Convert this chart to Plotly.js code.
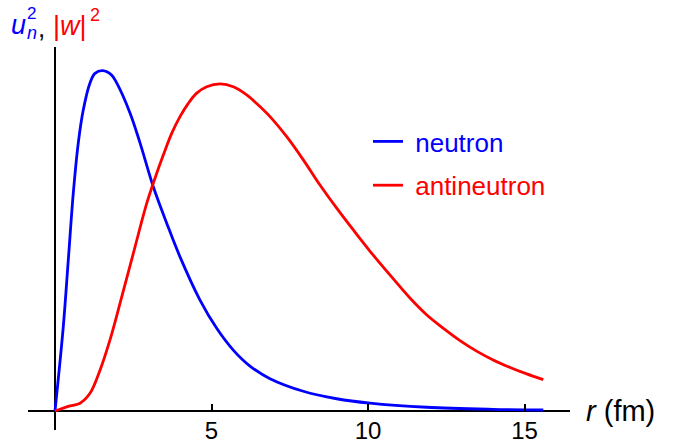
<!DOCTYPE html>
<html>
<head>
<meta charset="utf-8">
<script src="https://cdn.plot.ly/plotly-3.0.1.min.js"></script>
<style>html,body{margin:0;padding:0;background:#fff;}#chart{width:674px;height:444px;}</style>
</head>
<body>
<div id="chart"></div>
<script>
// ---- data ----
const rNeutron = [0, 0.265, 0.425, 0.585, 0.744, 0.904, 1.118, 1.278, 1.524, 1.81, 1.971, 2.396, 2.716, 3.141, 3.569, 3.994, 4.633, 5.166, 5.696, 6.23, 6.869, 7.933, 9.0, 10.06, 11.87, 13.99, 15.6];
const uNeutronSq = [0, 0.248, 0.444, 0.641, 0.788, 0.885, 0.964, 0.992, 1.0, 0.987, 0.964, 0.876, 0.788, 0.659, 0.552, 0.453, 0.326, 0.243, 0.179, 0.132, 0.095, 0.058, 0.036, 0.023, 0.011, 0.005, 0.003];

const rAnti = [0, 0.48, 0.80, 1.118, 1.438, 1.757, 2.077, 2.502, 2.930, 3.195, 3.460, 3.728, 3.994, 4.259, 4.527, 4.847, 5.272, 5.696, 6.125, 6.495, 6.869, 7.403, 7.933, 8.466, 9.0, 9.53, 10.06, 10.81, 11.34, 11.87, 12.41, 12.94, 13.47, 14.0, 14.54, 15.07, 15.6];
const wAntiSq = [0, 0.015, 0.023, 0.052, 0.120, 0.209, 0.316, 0.463, 0.610, 0.684, 0.752, 0.816, 0.865, 0.904, 0.934, 0.953, 0.961, 0.953, 0.929, 0.899, 0.865, 0.806, 0.738, 0.664, 0.596, 0.532, 0.470, 0.388, 0.332, 0.283, 0.243, 0.207, 0.176, 0.150, 0.128, 0.109, 0.092];

const seriesNames = ['neutron', 'antineutron'];
const xTickVals = [5, 10, 15];
const xTickText = ['5', '10', '15'];

// ---- layout helpers (pixel geometry of the plot area) ----
const W = 674, H = 444;
const L = 28, R = 570, T = 47, B = 430;
const px2fx = p => (p - L) / (R - L);
const py2fy = p => (B - p) / (B - T);
const FONT = '"Liberation Sans", Arial, Helvetica, sans-serif';
const BLUE = '#0000ff', RED = '#ff0000';

const traces = [
  {x: rNeutron, y: uNeutronSq, type: 'scatter', mode: 'lines', name: '<span style="color:#0000ff">&nbsp;' + seriesNames[0] + '</span>',
   line: {color: BLUE, width: 2.8, shape: 'spline', smoothing: 1}, legendgroup: 'a'},
  {x: rAnti, y: wAntiSq, type: 'scatter', mode: 'lines', name: '<span style="color:#ff0000">&nbsp;' + seriesNames[1] + '</span>',
   line: {color: RED, width: 2.8, shape: 'spline', smoothing: 1}, legendgroup: 'b'}
];

const x0 = 55, pxPerUnit = 31.3, y0 = 411, pxPerY = 340.3;
const layout = {
  width: W, height: H,
  margin: {l: L, r: W - R, t: T, b: H - B, pad: 0},
  paper_bgcolor: '#fff', plot_bgcolor: '#fff',
  font: {family: FONT, color: '#000', size: 24},
  showlegend: true,
  legend: {x: px2fx(368), y: py2fy(118), xanchor: 'left', yanchor: 'top', font: {size: 26, family: FONT},
           bgcolor: 'rgba(0,0,0,0)', tracegroupgap: 7, itemwidth: 30},
  xaxis: {range: [(L - x0) / pxPerUnit, (R - x0) / pxPerUnit], showgrid: false, zeroline: true, zerolinecolor: '#000', zerolinewidth: 2,
          showline: false, anchor: 'free', position: (B - y0) / (B - T), side: 'bottom',
          ticks: 'inside', ticklen: 7, tickwidth: 2, tickcolor: '#000', tickvals: xTickVals, ticktext: xTickText,
          ticklabelstandoff: 3,
          tickfont: {size: 24, family: FONT, color: '#000'}, fixedrange: true},
  yaxis: {range: [(y0 - B) / pxPerY, (y0 - T) / pxPerY], showgrid: false, zeroline: true, zerolinecolor: '#000', zerolinewidth: 2,
          showline: false, showticklabels: false, ticks: '', fixedrange: true},
  annotations: [
    {xref: 'paper', yref: 'paper', x: px2fx(584), y: py2fy(411), xanchor: 'left', yanchor: 'middle', showarrow: false,
     text: '<i>r</i> (fm)', font: {size: 29, family: FONT, color: '#000'}},
    {xref: 'paper', yref: 'paper', x: px2fx(18.5), y: py2fy(25), xanchor: 'center', yanchor: 'middle', showarrow: false,
     text: '<i>u</i>', font: {size: 27, family: FONT, color: BLUE}},
    {xref: 'paper', yref: 'paper', x: px2fx(31.5), y: py2fy(33), xanchor: 'center', yanchor: 'middle', showarrow: false,
     text: '<i>n</i>', font: {size: 18, family: FONT, color: BLUE}},
    {xref: 'paper', yref: 'paper', x: px2fx(31.5), y: py2fy(13), xanchor: 'center', yanchor: 'middle', showarrow: false,
     text: '2', font: {size: 17, family: FONT, color: BLUE}},
    {xref: 'paper', yref: 'paper', x: px2fx(41), y: py2fy(28), xanchor: 'center', yanchor: 'middle', showarrow: false,
     text: ',', font: {size: 26, family: FONT, color: '#000'}},
    {xref: 'paper', yref: 'paper', x: px2fx(70), y: py2fy(26), xanchor: 'center', yanchor: 'middle', showarrow: false,
     text: '|<i>w</i>|', font: {size: 27, family: FONT, color: RED}},
    {xref: 'paper', yref: 'paper', x: px2fx(95), y: py2fy(15), xanchor: 'center', yanchor: 'middle', showarrow: false,
     text: '2', font: {size: 18, family: FONT, color: RED}}
  ]
};

Plotly.newPlot('chart', traces, layout, {displayModeBar: false, staticPlot: true});
</script>
</body>
</html>
